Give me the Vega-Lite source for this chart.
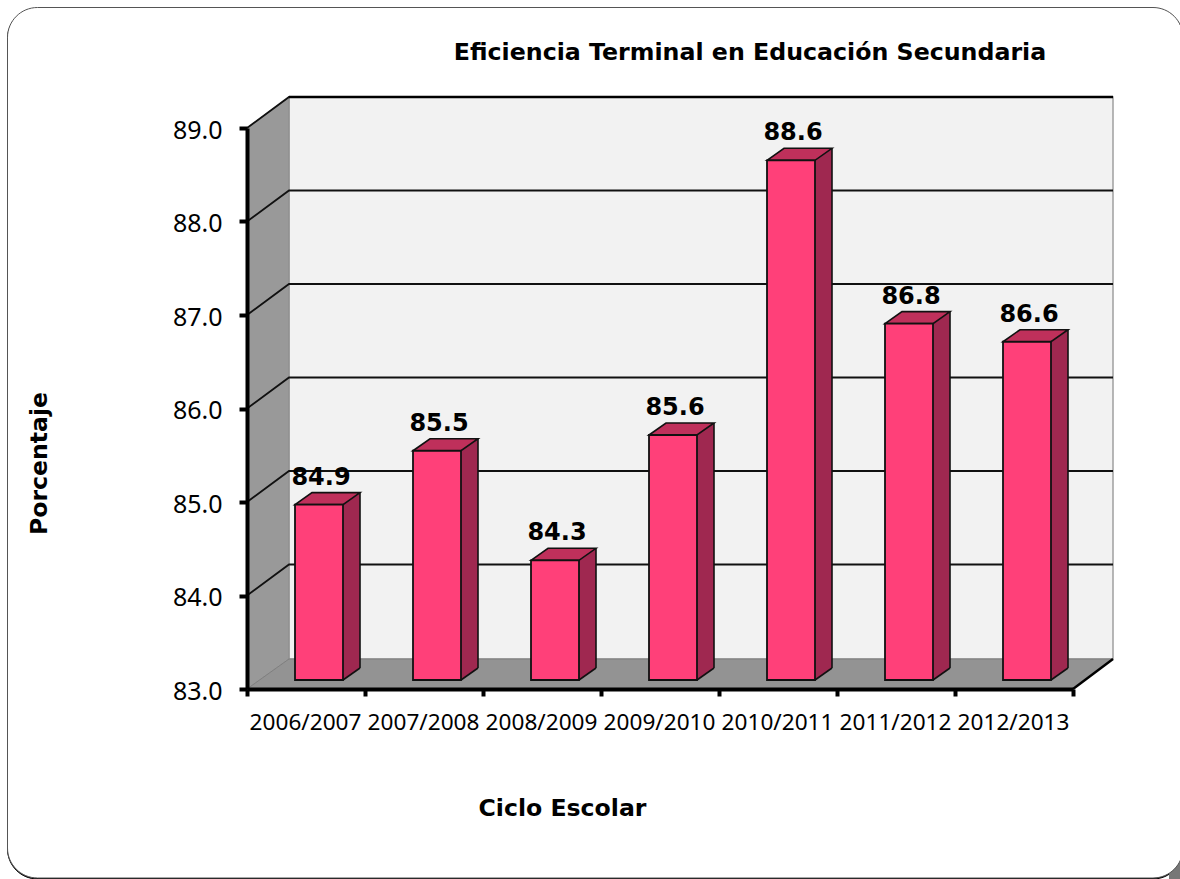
{
"$schema":"https://vega.github.io/schema/vega-lite/v6.json",
"autosize":"none",
"padding":{"left":247,"top":128,"right":107,"bottom":190},
"width":826,"height":561,
"background":"white",
"view":{"stroke":null},
"title":{"text":"Eficiencia Terminal en Educación Secundaria","font":"DejaVu Sans","fontWeight":"bold","fontSize":23.7,"color":"#000000","anchor":"middle","frame":"group","dx":90,"offset":-78,"baseline":"alphabetic"},
"datasets":{
"barras":[
{"ciclo":"2006/2007","valor":84.89},
{"ciclo":"2007/2008","valor":85.47},
{"ciclo":"2008/2009","valor":84.29},
{"ciclo":"2009/2010","valor":85.64},
{"ciclo":"2010/2011","valor":88.6},
{"ciclo":"2011/2012","valor":86.84},
{"ciclo":"2012/2013","valor":86.645}
],
"base":[{"ciclo":"2006/2007","nivel":83}],
"niveles":[
{"ciclo":"2006/2007","nivel":84},
{"ciclo":"2006/2007","nivel":85},
{"ciclo":"2006/2007","nivel":86},
{"ciclo":"2006/2007","nivel":87},
{"ciclo":"2006/2007","nivel":88},
{"ciclo":"2006/2007","nivel":89}
]
},
"encoding":{
"x":{"field":"ciclo","type":"nominal","sort":null,"scale":{"padding":0},"title":"Ciclo Escolar",
"axis":{"zindex":1,"labelAngle":0,"labelFont":"Noto Sans","labelFontSize":22.6,"labelColor":"#000000","labelPadding":15,"labelOffset":-1,"labelOverlap":false,"tickBand":"extent","tickSize":7,"tickWidth":4,"tickColor":"#000000","domainColor":"#000000","domainWidth":4,"titleFont":"DejaVu Sans","titleFontWeight":"bold","titleFontSize":23.6,"titleColor":"#000000","titleX":315,"titleY":126,"titleAlign":"center","titleBaseline":"alphabetic"}}
},
"layer":[
{"data":{"name":"base"},"mark":{"type":"point","filled":true,"opacity":1,"size":4,"xOffset":-59,"yOffset":1,"fill":"#000000","stroke":"#000000","strokeWidth":1,"shape":"M-209.5,-681.5H906A30,30 0 0 1 936,-651.5V159A30,30 0 0 1 906,189H-209.5A30,30 0 0 1 -239.5,159V-651.5A30,30 0 0 1 -209.5,-681.5Z"},
"encoding":{"y":{"field":"nivel","type":"quantitative","scale":{"domain":[83,89],"nice":false,"zero":false},"title":"Porcentaje",
"axis":{"zindex":1,"values":[83,84,85,86,87,88,89],"format":".1f","grid":false,"labelFont":"Noto Sans","labelFontSize":25,"labelColor":"#000000","labelPadding":17,"labelOffset":2,"tickSize":8,"tickWidth":4,"tickColor":"#000000","domainColor":"#000000","domainWidth":4,"titleFont":"DejaVu Sans","titleFontWeight":"bold","titleFontSize":23.6,"titleColor":"#000000","titleX":-201,"titleY":335,"titleAlign":"center","titleBaseline":"alphabetic"}}}},
{"data":{"name":"base"},"mark":{"type":"point","filled":true,"opacity":1,"size":4,"xOffset":-59,"fill":"#777777","shape":"M922,172H936V192H922Z"},
"encoding":{"y":{"field":"nivel","type":"quantitative","scale":{"domain":[83,89],"nice":false,"zero":false},"axis":null}}},
{"data":{"name":"base"},"mark":{"type":"point","filled":true,"opacity":1,"size":4,"xOffset":-59,"fill":"#ffffff","stroke":"#555555","strokeWidth":1,"shape":"M-209.5,-681.5H906A30,30 0 0 1 936,-651.5V159A30,30 0 0 1 906,189H-209.5A30,30 0 0 1 -239.5,159V-651.5A30,30 0 0 1 -209.5,-681.5Z"},
"encoding":{"y":{"field":"nivel","type":"quantitative","scale":{"domain":[83,89],"nice":false,"zero":false},"axis":null}}},
{"data":{"name":"base"},"mark":{"type":"point","filled":true,"opacity":1,"size":4,"xOffset":-59,"fill":"#f2f2f2","stroke":"#a0a0a0","strokeWidth":1.5,"shape":"M42,-592H866V-30H42Z"},
"encoding":{"y":{"field":"nivel","type":"quantitative","scale":{"domain":[83,89],"nice":false,"zero":false},"axis":null}}},
{"data":{"name":"base"},"mark":{"type":"point","filled":true,"opacity":1,"size":4,"xOffset":-59,"fill":"#999999","stroke":"#8a8a8a","strokeWidth":1,"shape":"M0,0L42,-30V-592L0,-561Z"},
"encoding":{"y":{"field":"nivel","type":"quantitative","scale":{"domain":[83,89],"nice":false,"zero":false},"axis":null}}},
{"data":{"name":"base"},"mark":{"type":"point","filled":true,"opacity":1,"size":4,"xOffset":-59,"fill":"#939393","stroke":"#7f7f7f","strokeWidth":1,"shape":"M0,0L42,-30H866L826,0Z"},
"encoding":{"y":{"field":"nivel","type":"quantitative","scale":{"domain":[83,89],"nice":false,"zero":false},"axis":null}}},
{"data":{"name":"niveles"},"mark":{"type":"point","filled":false,"opacity":1,"size":4,"xOffset":-59,"stroke":"#111111","strokeWidth":1.8,"shape":"M0,0L42,-31H866"},
"encoding":{"y":{"field":"nivel","type":"quantitative","scale":{"domain":[83,89],"nice":false,"zero":false},"axis":null}}},
{"data":{"name":"base"},"mark":{"type":"point","filled":false,"opacity":1,"size":4,"xOffset":-59,"stroke":"#000000","strokeWidth":2.4,"shape":"M42,-592H866M826,0L866,-30"},
"encoding":{"y":{"field":"nivel","type":"quantitative","scale":{"domain":[83,89],"nice":false,"zero":false},"axis":null}}},
{"data":{"name":"barras"},"mark":{"type":"bar","width":17,"xOffset":45.5,"yOffset":-21,"y2Offset":-21,"fill":"#9f2850"},
"encoding":{"y":{"field":"valor","type":"quantitative","scale":{"domain":[83,89.045],"nice":false,"zero":false},"axis":null},"y2":{"datum":83}}},
{"data":{"name":"barras"},"mark":{"type":"bar","width":1.6,"xOffset":54,"yOffset":-21,"y2Offset":-21,"fill":"#111111"},
"encoding":{"y":{"field":"valor","type":"quantitative","scale":{"domain":[83,89.045],"nice":false,"zero":false},"axis":null},"y2":{"datum":83}}},
{"data":{"name":"barras"},"mark":{"type":"point","filled":true,"opacity":1,"size":4,"xOffset":13,"fill":"#9f2850","stroke":null,"yOffset":-9,"shape":"M24,0L41,-12H24Z"},
"encoding":{"y":{"datum":83,"type":"quantitative","scale":{"domain":[83,89.045],"nice":false,"zero":false},"axis":null}}},
{"data":{"name":"barras"},"mark":{"type":"point","filled":false,"opacity":1,"size":4,"xOffset":13,"stroke":"#111111","strokeWidth":1.6,"yOffset":-9,"shape":"M24,0L41,-12"},
"encoding":{"y":{"datum":83,"type":"quantitative","scale":{"domain":[83,89.045],"nice":false,"zero":false},"axis":null}}},
{"data":{"name":"barras"},"mark":{"type":"point","filled":true,"opacity":1,"size":4,"xOffset":13,"yOffset":-9,"fill":"#bf305b","stroke":"#111111","strokeWidth":1.6,"shape":"M-24,0L-7,-12H41L24,0Z"},
"encoding":{"y":{"field":"valor","type":"quantitative","scale":{"domain":[83,89.045],"nice":false,"zero":false},"axis":null}}},
{"data":{"name":"barras"},"mark":{"type":"bar","width":48,"xOffset":13,"yOffset":-9,"y2Offset":-9,"fill":"#ff4079","stroke":"#111111","strokeWidth":1.8},
"encoding":{"y":{"field":"valor","type":"quantitative","scale":{"domain":[83,89.045],"nice":false,"zero":false},"axis":null},"y2":{"datum":83}}},
{"data":{"name":"barras"},"mark":{"type":"text","font":"DejaVu Sans","fontWeight":"bold","fontSize":24,"color":"#000000","baseline":"alphabetic","align":"center","xOffset":15,"yOffset":-29},
"encoding":{"y":{"field":"valor","type":"quantitative","scale":{"domain":[83,89.045],"nice":false,"zero":false},"axis":null},"text":{"field":"valor","type":"quantitative","format":".1f"}}}
],
"resolve":{"scale":{"y":"independent"},"axis":{"y":"independent"}}
}
